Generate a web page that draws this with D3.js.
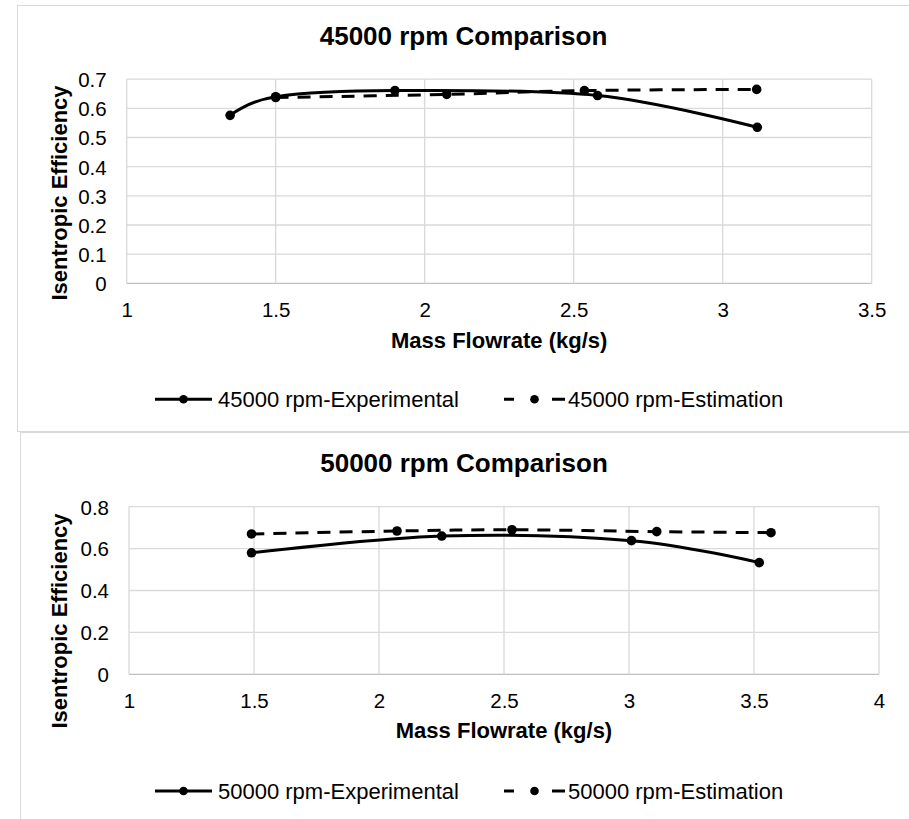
<!DOCTYPE html>
<html>
<head>
<meta charset="utf-8">
<script src="https://cdn.jsdelivr.net/npm/d3@7"></script>
<style>
  body { margin: 0; background: #fff; }
  text { font-family: "Liberation Sans", Arial, sans-serif; fill: #000; }
</style>
</head>
<body>
<script>
// 45000 rpm chart
const xTicks45 = [1, 1.5, 2, 2.5, 3, 3.5]
const yTicks45 = [0, 0.1, 0.2, 0.3, 0.4, 0.5, 0.6, 0.7]
const expFlow45 = [1.347, 1.5, 1.9, 2.58, 3.116]
const expEff45 = [0.576, 0.640, 0.661, 0.644, 0.535]
const estFlow45 = [1.5, 2.074, 2.536, 3.114]
const estEff45 = [0.637, 0.648, 0.661, 0.665]

// 50000 rpm chart
const xTicks50 = [1, 1.5, 2, 2.5, 3, 3.5, 4]
const yTicks50 = [0, 0.2, 0.4, 0.6, 0.8]
const expFlow50 = [1.49, 2.251, 3.01, 3.521]
const expEff50 = [0.580, 0.660, 0.638, 0.533]
const estFlow50 = [1.49, 2.072, 2.532, 3.111, 3.568]
const estEff50 = [0.670, 0.684, 0.690, 0.681, 0.676]

const svg = d3.select("body").append("svg")
    .attr("width", 909)
    .attr("height", 819)

function drawChart(opt) {
    const g = svg.append("g")

    // chart frame
    g.append("rect")
        .attr("x", opt.box[0]).attr("y", opt.box[1])
        .attr("width", 1000).attr("height", opt.box[2])
        .attr("fill", "none")
        .attr("stroke", "#d9d9d9")
        .attr("stroke-width", 1)

    const x = d3.scaleLinear()
        .domain(d3.extent(opt.xTicks))
        .range([opt.left, opt.right])
    const y = d3.scaleLinear()
        .domain(d3.extent(opt.yTicks))
        .range([opt.bottom, opt.top])

    // grid
    g.append("g").selectAll("line")
        .data(opt.yTicks).enter().append("line")
        .attr("x1", opt.left).attr("x2", opt.right)
        .attr("y1", d => y(d)).attr("y2", d => y(d))
        .attr("stroke", d => d == 0 ? "#bfbfbf" : "#d9d9d9")
        .attr("stroke-width", 1.3)
    g.append("g").selectAll("line")
        .data(opt.xTicks).enter().append("line")
        .attr("x1", d => x(d)).attr("x2", d => x(d))
        .attr("y1", opt.top).attr("y2", opt.bottom)
        .attr("stroke", "#d9d9d9")
        .attr("stroke-width", 1.3)

    // axes (labels only)
    const xAxis = g.append("g")
        .attr("transform", `translate(0,${opt.bottom})`)
        .call(d3.axisBottom(x).tickValues(opt.xTicks).tickSize(0).tickFormat(d => String(d)))
    xAxis.select(".domain").remove()
    xAxis.selectAll("text")
        .attr("y", 34).attr("dy", null)
        .style("font-size", "20.5px")
        .style("font-family", "Liberation Sans, Arial, sans-serif")
        .attr("fill", "#000")

    const yAxis = g.append("g")
        .attr("transform", `translate(${opt.left},0)`)
        .call(d3.axisLeft(y).tickValues(opt.yTicks).tickSize(0).tickPadding(20).tickFormat(d => String(d)))
    yAxis.select(".domain").remove()
    yAxis.selectAll("text")
        .attr("dy", "0.36em")
        .style("font-size", "20.5px")
        .style("font-family", "Liberation Sans, Arial, sans-serif")
        .attr("fill", "#000")

    // titles
    g.append("text")
        .attr("x", opt.titlePos[0]).attr("y", opt.titlePos[1])
        .attr("text-anchor", "middle")
        .style("font-size", "26px").style("font-weight", "bold")
        .text(opt.title)
    g.append("text")
        .attr("x", (opt.left + opt.right) / 2).attr("y", opt.xTitleY)
        .attr("text-anchor", "middle")
        .style("font-size", "22px").style("font-weight", "bold")
        .text("Mass Flowrate (kg/s)")
    g.append("text")
        .attr("transform", `translate(67,${opt.yTitleY}) rotate(-90)`)
        .attr("text-anchor", "middle")
        .style("font-size", "22px").style("font-weight", "bold")
        .text("Isentropic Efficiency")

    // series
    const line = d3.line()
        .x(d => x(d[0]))
        .y(d => y(d[1]))
        .curve(d3.curveCardinal.tension(0))

    const series = [
        { name: opt.names[0], pts: d3.zip(opt.expX, opt.expY), dash: null },
        { name: opt.names[1], pts: d3.zip(opt.estX, opt.estY), dash: "13,9" }
    ]

    series.forEach(s => {
        g.append("path")
            .datum(s.pts)
            .attr("d", line)
            .attr("fill", "none")
            .attr("stroke", "#000")
            .attr("stroke-width", 3)
            .attr("stroke-dasharray", s.dash)
        g.append("g").selectAll("circle")
            .data(s.pts).enter().append("circle")
            .attr("cx", d => x(d[0]))
            .attr("cy", d => y(d[1]))
            .attr("r", 4.8)
            .attr("fill", "#000")
    })

    // legend
    const legX = [[155, 212, 218], [504, 565, 568]]
    series.forEach((s, i) => {
        const lx = legX[i]
        g.append("line")
            .attr("x1", lx[0]).attr("x2", lx[1])
            .attr("y1", opt.legendY).attr("y2", opt.legendY)
            .attr("stroke", "#000")
            .attr("stroke-width", 3)
            .attr("stroke-dasharray", i == 1 ? "10,38,13" : null)
        g.append("circle")
            .attr("cx", (lx[0] + lx[1]) / 2)
            .attr("cy", opt.legendY)
            .attr("r", 4.3)
            .attr("fill", "#000")
        g.append("text")
            .attr("x", lx[2]).attr("y", opt.legendY + 7.5)
            .style("font-size", "22px")
            .text(s.name)
    })
}

drawChart({
    box: [17.5, 5.5, 426],
    left: 126.7, right: 871.7, top: 79.2, bottom: 283.3,
    xTicks: xTicks45, yTicks: yTicks45,
    expX: expFlow45, expY: expEff45, estX: estFlow45, estY: estEff45,
    title: "45000 rpm Comparison", titlePos: [463.5, 45],
    xTitleY: 348.3, yTitleY: 193, legendY: 399.3,
    names: ["45000 rpm-Experimental", "45000 rpm-Estimation"]
})

drawChart({
    box: [20.5, 432.5, 600],
    left: 129, right: 879, top: 506.7, bottom: 674.3,
    xTicks: xTicks50, yTicks: yTicks50,
    expX: expFlow50, expY: expEff50, estX: estFlow50, estY: estEff50,
    title: "50000 rpm Comparison", titlePos: [464, 471.7],
    xTitleY: 738.3, yTitleY: 621, legendY: 791,
    names: ["50000 rpm-Experimental", "50000 rpm-Estimation"]
})
</script>
</body>
</html>
